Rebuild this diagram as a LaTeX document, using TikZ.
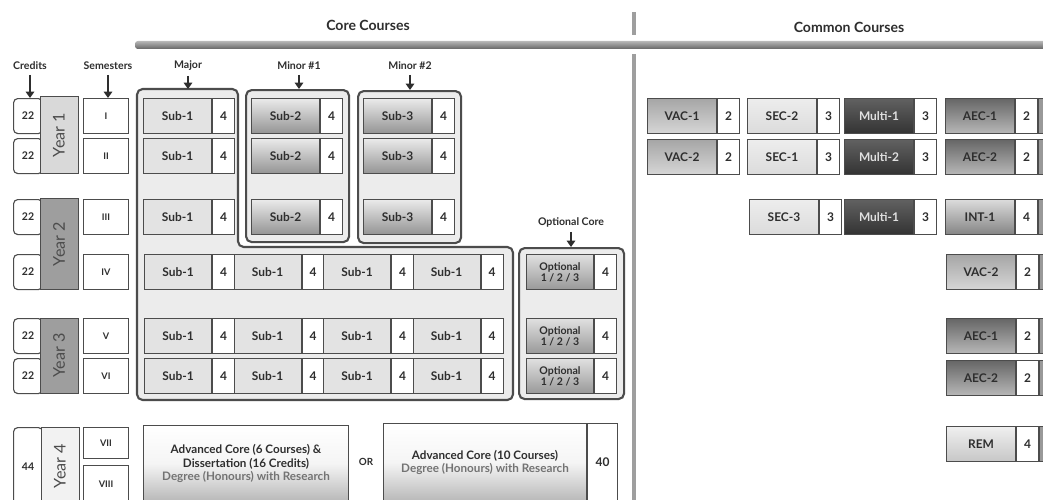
\documentclass[tikz,border=0pt]{standalone}
\usepackage{fontspec}
\setmainfont{Lato}
\usetikzlibrary{positioning,arrows.meta}

\definecolor{edge}{HTML}{4C4C4C}
\definecolor{txt}{HTML}{2E2E2E}
\definecolor{grp}{HTML}{ECECEC}
\definecolor{flatg}{HTML}{E3E3E3}

\tikzset{
  cname/.style={draw=edge, line width=0.7pt, anchor=north west, inner sep=0pt, align=center,
    minimum width=1.7cm, minimum height=0.875cm, text=txt,
    font=\fontsize{8.5}{9}\selectfont\bfseries},
  cpts/.style={draw=edge, line width=0.7pt, fill=white, anchor=west, inner sep=0pt,
    minimum width=0.55cm, minimum height=0.875cm, text=txt,
    font=\fontsize{8.5}{9}\selectfont\bfseries},
  flat/.style={fill=flatg},
  minor/.style={top color=black!8, bottom color=black!42},
  opt/.style={top color=black!12, bottom color=black!40},
  vac/.style={top color=black!35, bottom color=black!16},
  sec/.style={top color=black!7, bottom color=black!14},
  multi/.style={top color=black!62, bottom color=black!80, text=black!12},
  aec/.style={top color=black!60, bottom color=black!28},
  intc/.style={top color=black!14, bottom color=black!48},
  rem/.style={top color=black!6, bottom color=black!22},
  cut/.style={fill=black!40},
  grpbox/.style={fill=grp, draw=edge, line width=1.5pt, rounded corners=4pt},
  grpnode/.style={grpbox, anchor=north west, inner sep=0pt},
  head/.style={font=\fontsize{10}{11}\selectfont\bfseries, text=txt},
  lbl/.style={font=\fontsize{7.5}{8}\selectfont\bfseries, text=txt},
  down/.style={-{Triangle[width=6pt,length=4.5pt]}, line width=1.6pt, draw=txt},
  credbox/.style={draw=edge, line width=0.8pt, fill=white, rounded corners=3pt,
    anchor=north west, inner sep=0pt, minimum width=0.725cm, minimum height=0.875cm,
    font=\fontsize{7.5}{8}\selectfont\bfseries, text=txt},
  sembox/.style={draw=edge, line width=0.7pt, fill=white, anchor=north west, inner sep=0pt,
    minimum width=1.125cm, minimum height=0.875cm,
    font=\fontsize{6.5}{7}\selectfont\bfseries, text=txt},
  yearbox/.style={draw=edge, line width=0.7pt, rotate=90, inner sep=0pt,
    minimum height=0.95cm, font=\fontsize{11.5}{12}\selectfont, text=black!70},
  advbox/.style={draw=edge, line width=0.7pt, anchor=north west, inner sep=0pt, align=center,
    top color=white, bottom color=black!28, middle color=black!4, text=txt,
    font=\fontsize{8.3}{9.4}\selectfont\bfseries},
}

% [width] name, x, y, look, text, credits
\newcommand{\course}[7][1.7cm]{%
  \node[cname,#5,minimum width=#1] (#2) at (#3,#4) {#6};
  \node[cpts] (#2p) at (#2.east) {#7};
}

\begin{document}
\begin{tikzpicture}[x=0.025cm, y=-0.025cm]
\path[use as bounding box] (0,0) rectangle (1043,499);
\clip (0,0) rectangle (1043,499);
\fill[white] (0,0) rectangle (1043,499);

% headings
\shade[top color=black!28, bottom color=black!60, rounded corners=2pt] (135,41) rectangle (1060,49);
\fill[black!38] (632,12) rectangle (636,35);
\fill[black!38] (632,54) rectangle (636,510);
\node[head] (core) at (368,25) {Core Courses};
\node[head] (common) at (849,27) {Common Courses};

% groups
\filldraw[grpbox] (137,89) -- (238,89) -- (238,247) -- (513,247) -- (513,400) -- (137,400) -- cycle;
\coordinate (majtop) at (188,89);
\node[grpnode, minimum width=2.575cm, minimum height=3.8cm] (minA) at (245,89) {};
\node[grpnode, minimum width=2.575cm, minimum height=3.8cm] (minB) at (357,90) {};
\node[grpnode, minimum width=2.625cm, minimum height=3.775cm] (optg) at (518,247) {};

% labels with arrows
\node[lbl] (lcred) at (30,66) {Credits};
\node[lbl] (lsem) at (108,66) {Semesters};
\node[lbl] (lmaj) at (188,66) {Major};
\node[lbl] (lminA) at (299,66) {Minor \#1};
\node[lbl] (lminB) at (410,66) {Minor \#2};
\node[lbl] (lopt) at (571,222) {Optional Core};

% credits, semesters
\foreach \r/\y/\s in {1/98/I, 2/138/II, 3/199/III, 4/254/IV, 5/318/V, 6/358/VI} {
  \node[credbox] (cr\r) at (13,\y) {22};
  \node[sembox] (sem\r) at (83,\y) {\s};
}
\node[credbox, minimum height=1.95cm] (cr7) at (13,427) {44};
\node[sembox, minimum height=0.775cm] (sem7) at (83,427) {VII};
\node[sembox, minimum height=0.95cm] (sem8) at (83,465) {VIII};

\draw[down] (lcred.south) -- (lcred.south |- cr1.north);
\draw[down] (lsem.south) -- (lsem.south |- sem1.north);
\draw[down] (lmaj.south) -- (majtop);
\draw[down] (lminA.south) -- (lminA.south |- minA.north);
\draw[down] (lminB.south) -- (lminB.south |- minB.north);
\draw[down] (lopt.south) -- (lopt.south |- optg.north);

% years
\node[yearbox, fill=black!15, minimum width=1.9cm] (yr1) at (59,135) {Year 1};
\node[yearbox, fill=black!38, minimum width=2.25cm] (yr2) at (59,244) {Year 2};
\node[yearbox, fill=black!38, minimum width=1.875cm] (yr3) at (59,355.5) {Year 3};
\node[yearbox, fill=black!5, minimum width=1.95cm] (yr4) at (60,466) {Year 4};

% major and minors
\foreach \r/\y in {1/98, 2/138, 3/199} {
  \course{maj\r}{143}{\y}{flat}{Sub-1}{4}
  \course{mia\r}{251}{\y}{minor}{Sub-2}{4}
  \course{mib\r}{363}{\y}{minor}{Sub-3}{4}
}
\foreach \r/\y in {4/254, 5/318, 6/358} {
  \foreach \i in {1,...,4} {
    \pgfmathsetmacro{\xx}{144+(\i-1)*89.5}
    \course[1.675cm]{s\r\i}{\xx}{\y}{flat}{Sub-1}{4}
  }
  \course[1.675cm]{op\r}{526}{\y}{opt, font=\fontsize{7.5}{8}\selectfont\bfseries}{Optional\\1 / 2 / 3}{4}
}

% year 4
\node[advbox, minimum width=5.125cm, minimum height=1.9cm] (adv1) at (143,425)
  {Advanced Core (6 Courses) \&\\Dissertation (16 Credits)\\\textcolor{black!55}{Degree (Honours) with Research}};
\node[font=\fontsize{7}{8}\selectfont\bfseries, text=txt] (or) at (366,462) {OR};
\node[advbox, minimum width=5.075cm, minimum height=1.95cm] (adv2) at (383,423)
  {Advanced Core (10 Courses)\\\textcolor{black!55}{Degree (Honours) with Research}};
\node[cpts, minimum width=0.75cm, minimum height=1.95cm] (adv2p) at (adv2.east) {40};

% common courses
\course[1.725cm]{vac1}{647}{98}{vac}{VAC-1}{2}
\course[1.725cm]{sec2}{747}{98}{sec}{SEC-2}{3}
\course[1.725cm]{mul1}{844}{98}{multi}{Multi-1}{3}
\course[1.725cm]{aec1}{945}{98}{aec}{AEC-1}{2}
\course[1.725cm]{vac2}{647}{139}{vac}{VAC-2}{2}
\course[1.725cm]{sec1}{747}{139}{sec}{SEC-1}{3}
\course[1.725cm]{mul2}{844}{139}{multi}{Multi-2}{3}
\course[1.725cm]{aec2}{945}{139}{aec}{AEC-2}{2}
\course[1.725cm]{sec3}{749}{199}{sec}{SEC-3}{3}
\course[1.725cm]{mul3}{844}{199}{multi}{Multi-1}{3}
\course[1.725cm]{int1}{945}{199}{intc}{INT-1}{4}
\course[1.725cm]{vac4}{946}{254}{vac}{VAC-2}{2}
\course[1.725cm]{aec5}{946}{318}{aec}{AEC-1}{2}
\course[1.725cm]{aec6}{946}{360}{aec}{AEC-2}{2}
\course[1.725cm]{rem7}{946}{426}{rem}{REM}{4}

% cut off at the right edge
\foreach \n in {aec1p, aec2p, int1p, vac4p, aec5p, aec6p, rem7p}
  \node[cname, cut, minimum width=1cm, anchor=west] (\n x) at (\n.east) {};
\end{tikzpicture}
\end{document}
